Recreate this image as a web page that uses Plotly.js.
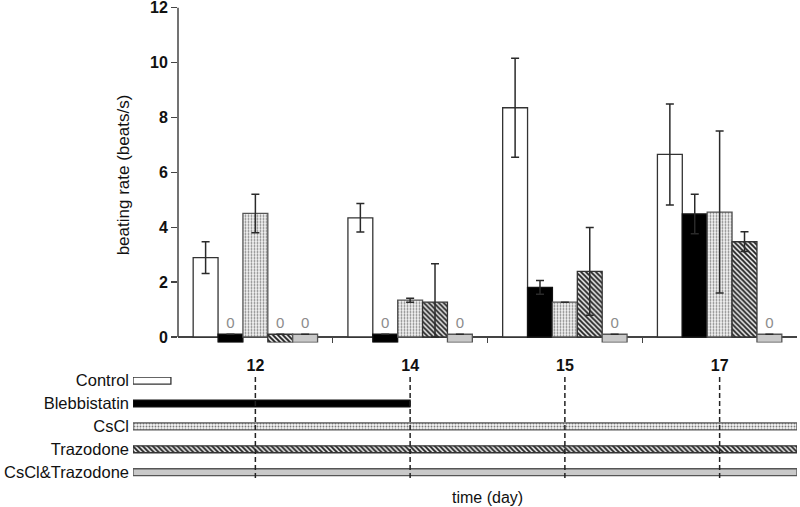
<!DOCTYPE html>
<html>
<head>
<meta charset="utf-8">
<script src="https://cdn.plot.ly/plotly-3.0.1.min.js"></script>
<style>html,body{margin:0;padding:0;background:#fff;}#chart{width:800px;height:507px;}</style>
</head>
<body>
<div id="chart"></div>
<script>
// ---------- data ----------
const days = ['12', '14', '15', '17'];

const controlRate   = [2.89, 4.34, 8.35, 6.65];
const controlErr    = [0.58, 0.52, 1.80, 1.84];

const blebbRate     = [0, 0, 1.81, 4.48];
const blebbErr      = [0, 0, 0.25, 0.72];

const csclRate      = [4.50, 1.34, 1.27, 4.55];
const csclErr       = [0.70, 0.07, 0, 2.95];

const trazRate      = [0, 1.27, 2.39, 3.47];
const trazErrPlus   = [0, 1.40, 1.60, 0.36];
const trazErrMinus  = [0, 1.27, 1.60, 0.36];

const comboRate     = [0, 0, 0, 0];
const comboErr      = [0, 0, 0, 0];

// treatment timeline: last day each treatment is applied (null = continues past last day)
const timelineNames = ['Control', 'Blebbistatin', 'CsCl', 'Trazodone', 'CsCl&Trazodone'];
const timelineEnd   = [null, '14', null, null, null];

// ---------- styles ----------
const FONT = 'Liberation Sans, Arial, sans-serif';
const styles = {
  'Control':        {color: '#ffffff', line: '#333333'},
  'Blebbistatin':   {color: '#000000', line: '#111111'},
  'CsCl':           {color: '#eeeeee', line: '#555555', pattern: {shape: '.', fgcolor: '#7a7a7a', bgcolor: '#f4f4f4', size: 3, solidity: 0.3}},
  'Trazodone':      {color: '#ffffff', line: '#333333', pattern: {shape: '\\', fgcolor: '#1e1e1e', bgcolor: '#f0f0f0', size: 3.5, solidity: 0.55}},
  'CsCl&Trazodone': {color: '#c9c9c9', line: '#555555'}
};
const STUB_TOP = 0.1, STUB_BOTTOM = -0.2;   // drawing of zero-valued bars
const SWATCH_LEN = 0.245;                   // control legend key length (x2 units)

// geometry (paper fractions)
const W = 800, H = 507;
const xDom  = [178 / W, 797 / W];
const yDom  = [(H - 342.5) / H, (H - 7.5) / H];
const x2Dom = [133 / W, 797 / W];
const y2Dom = [(H - 478) / H, (H - 377) / H];
const xRange = [-0.5, days.length - 0.5];
const x2Left = xRange[0] - (xRange[1] - xRange[0]) * (xDom[0] - x2Dom[0]) / (xDom[1] - xDom[0]);

function mkMarker(name) {
  const s = styles[name];
  const m = {color: s.color, line: {color: s.line, width: 1.3}};
  if (s.pattern) m.pattern = Object.assign({fillmode: 'replace'}, s.pattern);
  return m;
}

const series = [
  {name: 'Control',        v: controlRate, ep: controlErr,  em: controlErr},
  {name: 'Blebbistatin',   v: blebbRate,   ep: blebbErr,    em: blebbErr},
  {name: 'CsCl',           v: csclRate,    ep: csclErr,     em: csclErr},
  {name: 'Trazodone',      v: trazRate,    ep: trazErrPlus, em: trazErrMinus},
  {name: 'CsCl&Trazodone', v: comboRate,   ep: comboErr,    em: comboErr}
];

const traces = [];
series.forEach(s => {
  traces.push({
    type: 'bar', name: s.name, x: days,
    y: s.v.map(v => v === 0 ? STUB_TOP - STUB_BOTTOM : v),
    base: s.v.map(v => v === 0 ? STUB_BOTTOM : 0),
    text: s.v.map(v => v === 0 ? '0' : ''),
    textposition: 'outside',
    textfont: {family: FONT, size: 15, color: '#8c8c8c'},
    cliponaxis: false,
    marker: mkMarker(s.name),
    error_y: {type: 'data', symmetric: false,
      array: s.v.map((v, i) => (v === 0 || s.ep[i] === 0) ? null : s.ep[i]),
      arrayminus: s.v.map((v, i) => (v === 0 || s.em[i] === 0) ? null : s.em[i]),
      color: '#2a2a2a', thickness: 1.5, width: 4},
    xaxis: 'x', yaxis: 'y', hoverinfo: 'skip'
  });
});

// timeline bars
timelineNames.forEach((n, i) => {
  let end;
  if (n === 'Control') end = x2Left + SWATCH_LEN;
  else if (timelineEnd[i] === null) end = xRange[1];
  else end = days.indexOf(timelineEnd[i]);
  traces.push({
    type: 'bar', orientation: 'h', name: n + ' timeline',
    y: [n], x: [end - x2Left], base: [x2Left],
    width: 0.3, offset: -0.15,
    marker: mkMarker(n),
    xaxis: 'x2', yaxis: 'y2', hoverinfo: 'skip'
  });
});

const shapes = [
  {type: 'line', xref: 'x domain', x0: 0, x1: 0, yref: 'y', y0: 0, y1: 12,
   line: {color: '#444', width: 1.5}}
];
days.forEach((d, i) => {
  shapes.push({type: 'line', xref: 'x2', x0: i, x1: i, yref: 'y2 domain', y0: 0, y1: 1,
    line: {color: '#222', width: 1.5, dash: '5px,3px'}, layer: 'above'});
});

const layout = {
  width: W, height: H,
  margin: {l: 0, r: 0, t: 0, b: 0},
  paper_bgcolor: '#fff', plot_bgcolor: 'rgba(0,0,0,0)',
  showlegend: false,
  barmode: 'group', bargap: 0.196, bargroupgap: 0,
  font: {family: FONT, color: '#111'},
  xaxis: {
    domain: xDom, anchor: 'y', type: 'category', range: xRange,
    tickson: 'boundaries', ticks: 'inside', ticklen: 5, tickwidth: 1.2, tickcolor: '#444',
    showline: false, showgrid: false, zeroline: false,
    tickfont: {family: FONT, size: 16, weight: 'bold', color: '#111'},
    ticklabelstandoff: 11
  },
  yaxis: {
    domain: yDom, anchor: 'x', range: [STUB_BOTTOM, 12.001],
    tickvals: [0, 2, 4, 6, 8, 10, 12],
    ticks: 'outside', ticklen: 6, tickwidth: 1.3, tickcolor: '#444',
    showline: false, showgrid: false,
    zeroline: true, zerolinecolor: '#444', zerolinewidth: 1.5,
    ticklabeloverflow: 'allow',
    tickfont: {family: FONT, size: 16, weight: 'bold', color: '#111'},
    title: {text: 'beating rate (beats/s)', font: {family: FONT, size: 17, color: '#111'}, standoff: 16}
  },
  xaxis2: {
    domain: x2Dom, anchor: 'y2', range: [x2Left, xRange[1]],
    showticklabels: false, ticks: '', showgrid: false, zeroline: false, showline: false
  },
  yaxis2: {
    domain: y2Dom, anchor: 'x2', type: 'category',
    categoryorder: 'array', categoryarray: timelineNames,
    range: [4.253, -0.157],
    ticks: '', showgrid: false, zeroline: false, showline: false,
    tickfont: {family: FONT, size: 16.5, color: '#111'},
    ticklabelstandoff: 3
  },
  shapes: shapes,
  annotations: [{
    text: 'time (day)', xref: 'paper', yref: 'paper',
    x: (xDom[0] + xDom[1]) / 2, y: (H - 497) / H,
    xanchor: 'center', yanchor: 'middle', showarrow: false,
    font: {family: FONT, size: 16, color: '#111'}
  }]
};

Plotly.newPlot('chart', traces, layout, {staticPlot: true, displayModeBar: false});
</script>
</body>
</html>
